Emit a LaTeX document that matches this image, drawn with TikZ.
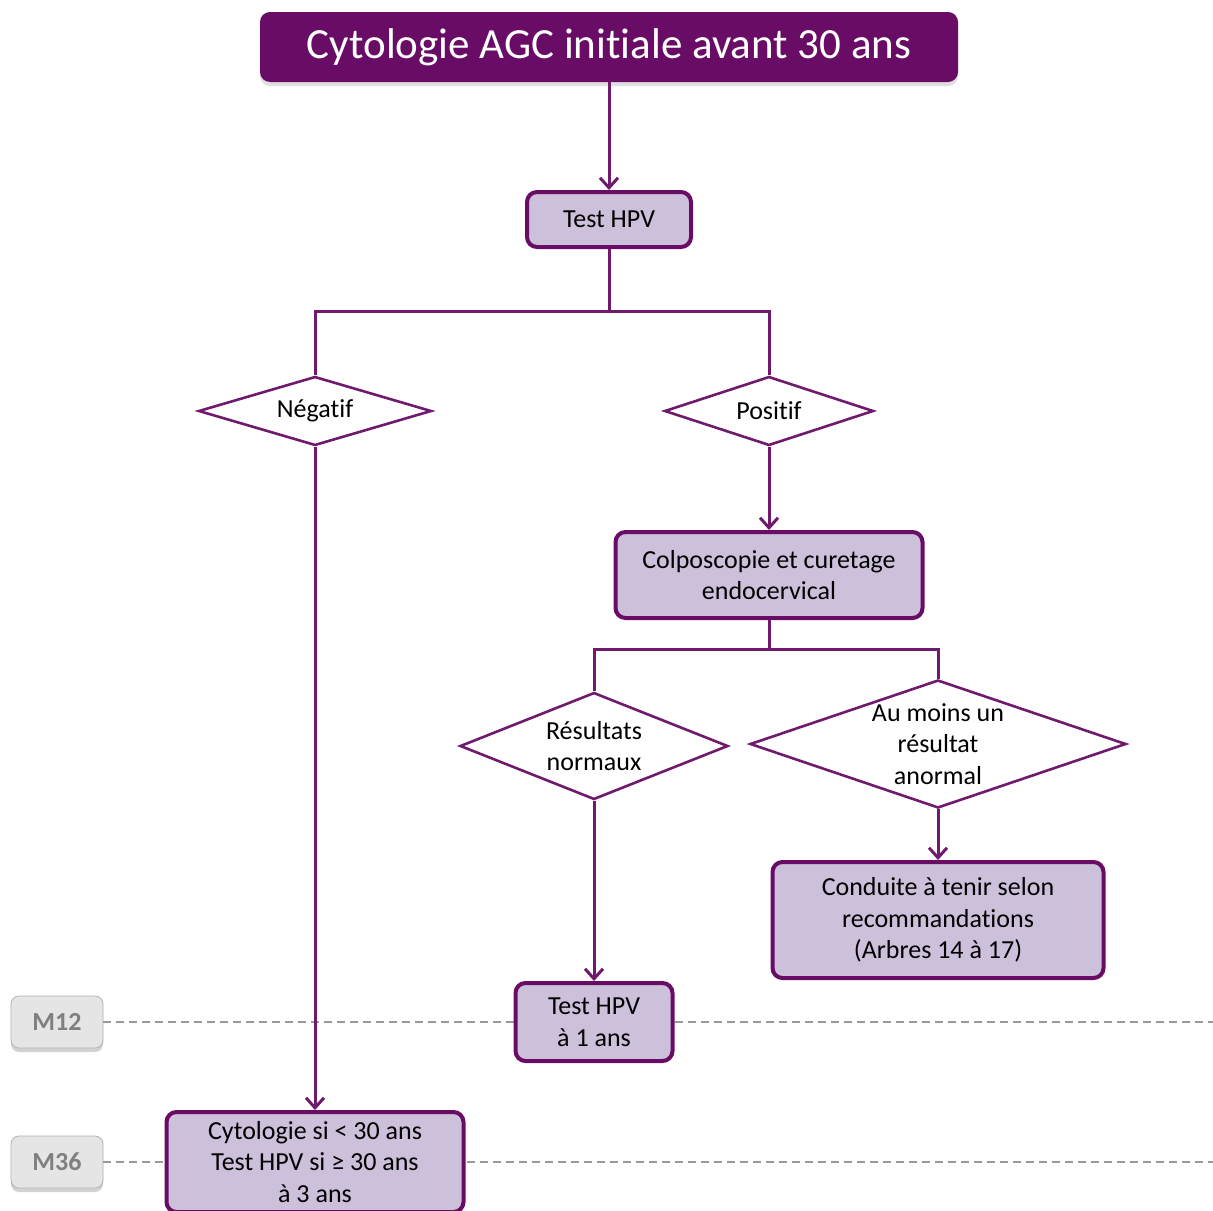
\documentclass[tikz,border=0pt]{standalone}
\usepackage{fontspec}
\setmainfont{Carlito}[Ligatures=NoCommon]
\usetikzlibrary{positioning,shapes.geometric,arrows.meta,shadows}
\definecolor{plum}{RGB}{104,12,102}
\definecolor{lilac}{RGB}{204,192,218}
\definecolor{linepurple}{RGB}{112,26,110}
\begin{document}
\begin{tikzpicture}[
  x=1pt, y=1pt,
  txt/.style={font=\fontsize{13}{15.8}\selectfont, align=center},
  titlebox/.style={rectangle, rounded corners=5pt, fill=plum, text=white, minimum width=349pt, minimum height=35pt,
    font=\fontsize{21.5}{24}\selectfont, drop shadow={shadow xshift=0pt, shadow yshift=-2pt, fill=black!25}},
  block/.style={txt, rectangle, rounded corners=5pt, draw=plum, line width=2pt, fill=lilac, inner sep=0pt},
  decision/.style={txt, diamond, draw=linepurple, line width=1.3pt, fill=white, inner sep=-3pt},
  monthtag/.style={rectangle, rounded corners=4pt, draw=black!30, fill=black!10, text=black!50, minimum width=46pt, minimum height=26pt,
    font=\fontsize{13}{15}\selectfont\bfseries, drop shadow={shadow xshift=0pt, shadow yshift=-2pt, fill=black!35}},
  flow/.style={line width=1.5pt, draw=linepurple},
  arr/.style={flow, -{Straight Barb[length=5pt,width=9pt]}},
  timeline/.style={draw=black!40, line width=0.6pt, dash pattern=on 4pt off 2.5pt}
]
\useasboundingbox (0,0) rectangle (606.5,-605);

\node[monthtag] (m12) at (28.5,-511) {M12};
\node[monthtag] (m36) at (28.5,-581) {M36};
\coordinate (m12end) at (606.5,-511);
\coordinate (m36end) at (606.5,-581);
\draw[timeline] (m12) -- (m12end);
\draw[timeline] (m36) -- (m36end);

\node[titlebox] (title) at (304.5,-23.5) {Cytologie AGC initiale avant 30 ans};
\node[block, below of=title, node distance=86.25pt, minimum width=82pt, minimum height=27.5pt] (hpv) {Test HPV};
\node[decision, aspect=3.4, minimum width=116.5pt, minimum height=34.5pt] (neg) at (157.5,-205.5) {Négatif};
\node[decision, aspect=3, minimum width=104.5pt, minimum height=34.5pt] (pos) at (384.5,-205.5) {Positif};
\node[block, below of=pos, node distance=82pt, minimum width=153.5pt, minimum height=43pt] (colpo) {Colposcopie et curetage\\endocervical};
\node[decision, aspect=2.5, minimum width=134pt, minimum height=53.5pt] (normal) at (297,-373) {Résultats\\normaux};
\node[decision, aspect=2.9, minimum width=188pt, minimum height=64pt] (abnormal) at (469,-372) {Au moins un\\résultat\\anormal};
\node[block, below of=abnormal, node distance=88pt, minimum width=165.5pt, minimum height=58pt] (conduct) {Conduite à tenir selon\\recommandations\\(Arbres 14 à 17)};
\node[block, below of=normal, node distance=138pt, minimum width=78.5pt, minimum height=39pt] (hpvyear) {Test HPV\\à 1 ans};
\node[block, below of=neg, node distance=375.5pt, minimum width=148.5pt, minimum height=50pt] (cyto) {Cytologie si < 30 ans\\Test HPV si ≥ 30 ans\\à 3 ans};

\coordinate[below of=hpv, node distance=45.75pt] (hpvfork);
\coordinate[below of=colpo, node distance=37pt] (colpofork);

\draw[arr] (title) -- (hpv);
\draw[flow] (hpv) -- (hpvfork);
\draw[flow] (neg.north) |- (hpvfork) -| (pos.north);
\draw[arr] (pos) -- (colpo);
\draw[flow] (colpo) -- (colpofork);
\draw[flow] (normal.north) |- (colpofork) -| (abnormal.north);
\draw[arr] (abnormal) -- (conduct);
\draw[arr] (normal) -- (hpvyear);
\draw[arr] (neg) -- (cyto);
\end{tikzpicture}
\end{document}
